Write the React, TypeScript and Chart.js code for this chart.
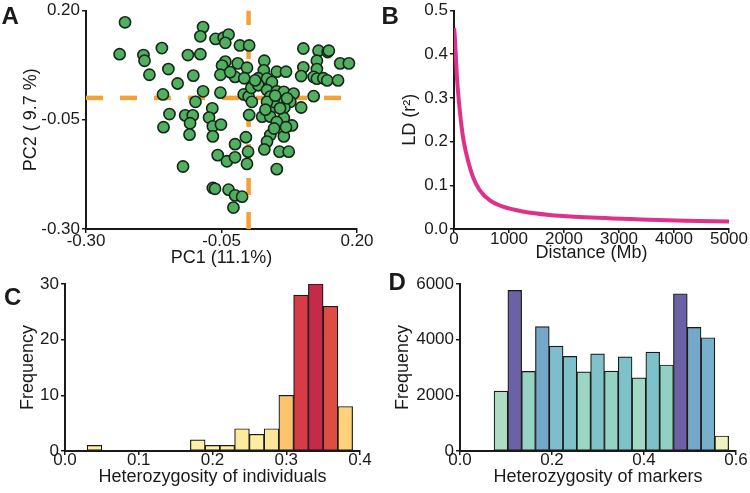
import React, { useEffect, useRef } from "react";
import { Chart, registerables } from "chart.js";

Chart.register(...registerables);

const FONT = "'Liberation Sans', Arial, Helvetica, sans-serif";
const INK = "#1a1a1a";

// ---------- Panel A: PCA ----------
const pc1 = [
  -0.228, -0.238, -0.194, -0.192, -0.16, -0.183, -0.148, -0.131, -0.158, -0.146,
  -0.157, -0.112, -0.089, -0.084, -0.089, -0.102, -0.084, -0.098, -0.117, -0.103,
  -0.108, -0.109, -0.121, -0.067, -0.073, -0.066, -0.066, -0.057, -0.066,
  -0.061, -0.046, -0.037, -0.043, -0.016, 0.001, -0.043, -0.049, -0.02, -0.003,
  -0.052, -0.025, -0.008, -0.052, -0.009, 0.0, 0.005, 0.001, -0.051, -0.005,
  -0.025, -0.04, -0.025, -0.001, -0.003, -0.062, -0.037, -0.025, -0.012, -0.028,
  0.029, 0.028, 0.018, 0.034, 0.052, 0.069, 0.043, 0.018, 0.034, 0.052,
  0.065, 0.083, 0.04, 0.058, 0.077, 0.043, 0.066, 0.097, 0.12, 0.025,
  0.04, 0.065, 0.08, 0.052, 0.04, 0.034, 0.029, 0.065, 0.057, 0.074,
  0.052, 0.046, 0.058, 0.034,
  0.101, 0.129, 0.146, 0.126, 0.169, 0.185, 0.101, 0.126, 0.097, 0.12,
  0.126, 0.138, 0.145, 0.165, 0.148, 0.012, 0.049, 0.071, 0.031, 0.047,
  0.069, -0.034, 0.006,
];
const pc2 = [
  0.173, 0.1, 0.098, 0.085, 0.114, 0.053, 0.066, 0.033, 0.008, -0.037,
  -0.067, 0.098, 0.1, 0.162, 0.141, 0.051, 0.015, -0.009, -0.04, -0.04,
  -0.058, -0.084, -0.157, -0.024, -0.045, -0.065, -0.088, -0.131, -0.206,
  0.135, 0.138, 0.145, 0.126, 0.12, 0.12, 0.083, 0.074, 0.079, 0.069,
  0.053, 0.048, 0.045, 0.012, 0.008, 0.003, 0.023, -0.039, -0.061, -0.09,
  -0.106, -0.145, -0.136, -0.123, -0.151, -0.208, -0.21, -0.223, -0.226, -0.251,
  0.085, 0.063, 0.045, 0.044, 0.06, 0.06, 0.036, 0.029, 0.018, 0.015,
  0.014, 0.01, 0.003, -0.007, -0.009, -0.022, -0.022, -0.022, 0.004, -0.043,
  -0.043, -0.046, -0.063, -0.055, -0.085, -0.1, -0.118, -0.088, -0.123, -0.123,
  -0.163, -0.009, -0.024, -0.009,
  0.113, 0.108, 0.105, 0.085, 0.079, 0.079, 0.07, 0.066, 0.05, 0.048,
  0.044, 0.045, 0.04, 0.04, 0.108, 0.04, 0.005, -0.001, -0.027, -0.07,
  -0.067, 0.059, -0.009,
];
const pcaTicks = [-0.3, -0.05, 0.2];
const pcaRefX = 0;
const pcaRefY = 0;

// ---------- Panel B: LD decay ----------
const ldDistance = [0, 12, 30, 55, 90, 133, 176, 255, 345, 467, 648, 891, 1255, 1739, 2200, 3400, 4200, 5000];
const ldR2 = [0.46, 0.445, 0.404, 0.344, 0.291, 0.239, 0.201, 0.156, 0.119, 0.089, 0.066, 0.051, 0.04, 0.032, 0.028, 0.022, 0.019, 0.017];
const ldXTicks = [0, 1000, 2000, 3000, 4000, 5000];
const ldYTicks = [0, 0.1, 0.2, 0.3, 0.4, 0.5];

// ---------- Panel C: heterozygosity of individuals ----------
const indBinCenters = [0.04, 0.18, 0.2, 0.22, 0.24, 0.26, 0.28, 0.3, 0.32, 0.34, 0.36, 0.38];
const indCounts = [1, 2, 1, 1, 4, 3, 4, 10, 28, 30, 26, 8];
const indXTicks = [0, 0.1, 0.2, 0.3, 0.4];
const indYTicks = [0, 10, 20, 30];
const indColors = [
  "#fdf0a6", "#fdf0a6", "#fdf0a6", "#fdf0a6", "#fdeb9c", "#fdeea2", "#fde69a",
  "#fdc36d", "#d73c46", "#c42b48", "#df4c43", "#fed27b",
];

// ---------- Panel D: heterozygosity of markers ----------
const mkBinCenters = [
  0.089, 0.119, 0.149, 0.179, 0.209, 0.239, 0.269, 0.299, 0.329,
  0.359, 0.389, 0.419, 0.449, 0.479, 0.509, 0.539, 0.569,
];
const mkCounts = [2150, 5770, 2860, 4470, 3770, 3400, 2840, 3490, 2870, 3380, 2630, 3550, 3090, 5650, 4440, 4070, 540];
const mkXTicks = [0, 0.2, 0.4, 0.6];
const mkYTicks = [0, 2000, 4000, 6000];
const mkColors = [
  "#aedcc3", "#6b62a6", "#95d3c2", "#75a7c8", "#80bccc", "#7dc2c8", "#9bd5c3",
  "#7fc3c8", "#94d2c3", "#7dc2c8", "#a3d8c3", "#7dc2c8", "#91d0c3", "#6b62a6",
  "#75a7c8", "#79b0c9", "#f0f2bf",
];

type AxisCfg = {
  position: "left" | "bottom";
  min: number;
  max: number;
  ticks: number[];
  decimals: number;
  size: number;
  tickLength: number;
  tickPadding: number;
  title: string;
  titlePadding: number;
};

function makeAxis(cfg: AxisCfg) {
  const horizontal = cfg.position === "bottom";
  return {
    type: "linear",
    position: cfg.position,
    min: cfg.min,
    max: cfg.max,
    offset: false,
    afterBuildTicks: (s: any) => {
      s.ticks = cfg.ticks.map((v) => ({ value: v }));
    },
    afterFit: (s: any) => {
      if (horizontal) s.height = cfg.size;
      else s.width = cfg.size;
    },
    grid: {
      display: true,
      drawOnChartArea: false,
      drawTicks: true,
      tickLength: cfg.tickLength,
      color: INK,
      lineWidth: 1.5,
      offset: false,
    },
    border: { display: true, color: INK, width: 2 },
    ticks: {
      autoSkip: false,
      maxRotation: 0,
      minRotation: 0,
      padding: cfg.tickPadding,
      color: INK,
      font: { family: FONT, size: 17, lineHeight: 1 },
      callback: (v: any) => Number(v).toFixed(cfg.decimals),
    },
    title: {
      display: true,
      text: cfg.title,
      color: INK,
      font: { family: FONT, size: 18, lineHeight: 1 },
      padding: horizontal ? { top: 0, bottom: cfg.titlePadding } : { top: cfg.titlePadding, bottom: 0 },
    },
  };
}

const baseOptions = (padding: any) => ({
  responsive: false,
  animation: false as const,
  devicePixelRatio: 1,
  layout: { padding, autoPadding: false },
  plugins: { legend: { display: false }, tooltip: { enabled: false } },
  events: [] as any[],
});

export default function App() {
  const refA = useRef<HTMLCanvasElement>(null);
  const refB = useRef<HTMLCanvasElement>(null);
  const refC = useRef<HTMLCanvasElement>(null);
  const refD = useRef<HTMLCanvasElement>(null);

  useEffect(() => {
    const charts: Chart[] = [];

    // Panel A
    const xMin = pcaTicks[0];
    const xMax = pcaTicks[pcaTicks.length - 1];
    charts.push(
      new Chart(refA.current!, {
        type: "scatter",
        data: {
          datasets: [
            {
              type: "scatter",
              data: pc1.map((x, i) => ({ x, y: pc2[i] })),
              backgroundColor: "#50b060",
              borderColor: "#17261a",
              borderWidth: 1.6,
              pointRadius: 5.6,
              order: 1,
            } as any,
            {
              type: "line",
              data: [
                { x: xMin, y: pcaRefY },
                { x: xMax, y: pcaRefY },
              ],
              borderColor: "#f4a235",
              borderWidth: 4.5,
              borderDash: [17, 17],
              pointRadius: 0,
              fill: false,
              order: 2,
            } as any,
            {
              type: "line",
              data: [
                { x: pcaRefX, y: xMin },
                { x: pcaRefX, y: xMax },
              ],
              borderColor: "#f4a235",
              borderWidth: 4.5,
              borderDash: [17, 17],
              pointRadius: 0,
              fill: false,
              order: 2,
            } as any,
          ],
        },
        options: {
          ...baseOptions({ left: 0, top: 7, right: 18, bottom: 0 }),
          scales: {
            x: makeAxis({
              position: "bottom", min: xMin, max: xMax, ticks: pcaTicks, decimals: 2,
              size: 41, tickLength: 4, tickPadding: 0, title: "PC1 (11.1%)", titlePadding: 2.7,
            }),
            y: makeAxis({
              position: "left", min: xMin, max: xMax, ticks: pcaTicks, decimals: 2,
              size: 86, tickLength: 4, tickPadding: 2, title: "PC2 ( 9.7 %)", titlePadding: 22,
            }),
          },
        } as any,
      })
    );

    // Panel B
    charts.push(
      new Chart(refB.current!, {
        type: "line",
        data: {
          datasets: [
            {
              data: ldDistance.map((x, i) => ({ x, y: ldR2[i] })),
              borderColor: "#df3189",
              borderWidth: 4,
              pointRadius: 0,
              cubicInterpolationMode: "monotone",
              fill: false,
            } as any,
          ],
        },
        options: {
          ...baseOptions({ left: 0, top: 7, right: 21, bottom: 0 }),
          scales: {
            x: makeAxis({
              position: "bottom", min: 0, max: 5000, ticks: ldXTicks, decimals: 0,
              size: 41, tickLength: 4, tickPadding: -2, title: "Distance (Mb)", titlePadding: 7.5,
            }),
            y: makeAxis({
              position: "left", min: 0, max: 0.5, ticks: ldYTicks, decimals: 1,
              size: 79, tickLength: 4, tickPadding: 2, title: "LD (r\u00B2)", titlePadding: 26,
            }),
          },
        } as any,
      })
    );

    // Panel C
    charts.push(
      new Chart(refC.current!, {
        type: "bar",
        data: {
          datasets: [
            {
              data: indBinCenters.map((x, i) => ({ x, y: indCounts[i] })),
              backgroundColor: indColors,
              borderColor: INK,
              borderWidth: 1.2,
              borderSkipped: false,
              barPercentage: 1,
              categoryPercentage: 1,
            } as any,
          ],
        },
        options: {
          ...baseOptions({ left: 0, top: 14, right: 15, bottom: 0 }),
          scales: {
            x: makeAxis({
              position: "bottom", min: 0, max: 0.4, ticks: indXTicks, decimals: 1,
              size: 42, tickLength: 4, tickPadding: -3, title: "Heterozygosity of individuals", titlePadding: 7,
            }),
            y: makeAxis({
              position: "left", min: 0, max: 30, ticks: indYTicks, decimals: 0,
              size: 65, tickLength: 4, tickPadding: 2, title: "Frequency", titlePadding: 19.3,
            }),
          },
        } as any,
      })
    );

    // Panel D
    charts.push(
      new Chart(refD.current!, {
        type: "bar",
        data: {
          datasets: [
            {
              data: mkBinCenters.map((x, i) => ({ x, y: mkCounts[i] })),
              backgroundColor: mkColors,
              borderColor: INK,
              borderWidth: 1.2,
              borderSkipped: false,
              barPercentage: 1,
              categoryPercentage: 1,
            } as any,
          ],
        },
        options: {
          ...baseOptions({ left: 0, top: 14, right: 14, bottom: 0 }),
          scales: {
            x: makeAxis({
              position: "bottom", min: 0, max: 0.6, ticks: mkXTicks, decimals: 1,
              size: 42, tickLength: 4, tickPadding: -3, title: "Heterozygosity of markers", titlePadding: 7,
            }),
            y: makeAxis({
              position: "left", min: 0, max: 6000, ticks: mkYTicks, decimals: 0,
              size: 85, tickLength: 4, tickPadding: 2, title: "Frequency", titlePadding: 19.3,
            }),
          },
        } as any,
      })
    );

    return () => {
      charts.forEach((c) => c.destroy());
    };
  }, []);

  const letter = (text: string, left: number, top: number) => (
    <div
      style={{
        position: "absolute",
        left,
        top,
        fontFamily: FONT,
        fontWeight: "bold",
        fontSize: 24,
        lineHeight: "24px",
        color: INK,
      }}
    >
      {text}
    </div>
  );

  const cv = (ref: React.RefObject<HTMLCanvasElement>, left: number, top: number, w: number, h: number) => (
    <canvas
      ref={ref}
      width={w}
      height={h}
      style={{ position: "absolute", left, top, width: w, height: h }}
    />
  );

  return (
    <div
      style={{
        position: "absolute",
        left: 0,
        top: 0,
        width: 750,
        height: 493,
        background: "#ffffff",
        overflow: "hidden",
      }}
    >
      {cv(refA, 0, 0, 375, 270)}
      {cv(refB, 375, 0, 375, 270)}
      {cv(refC, 0, 270, 375, 223)}
      {cv(refD, 375, 270, 375, 223)}
      {letter("A", 1.5, 4)}
      {letter("B", 381.5, 4)}
      {letter("C", 4, 285)}
      {letter("D", 388.5, 270)}
    </div>
  );
}
